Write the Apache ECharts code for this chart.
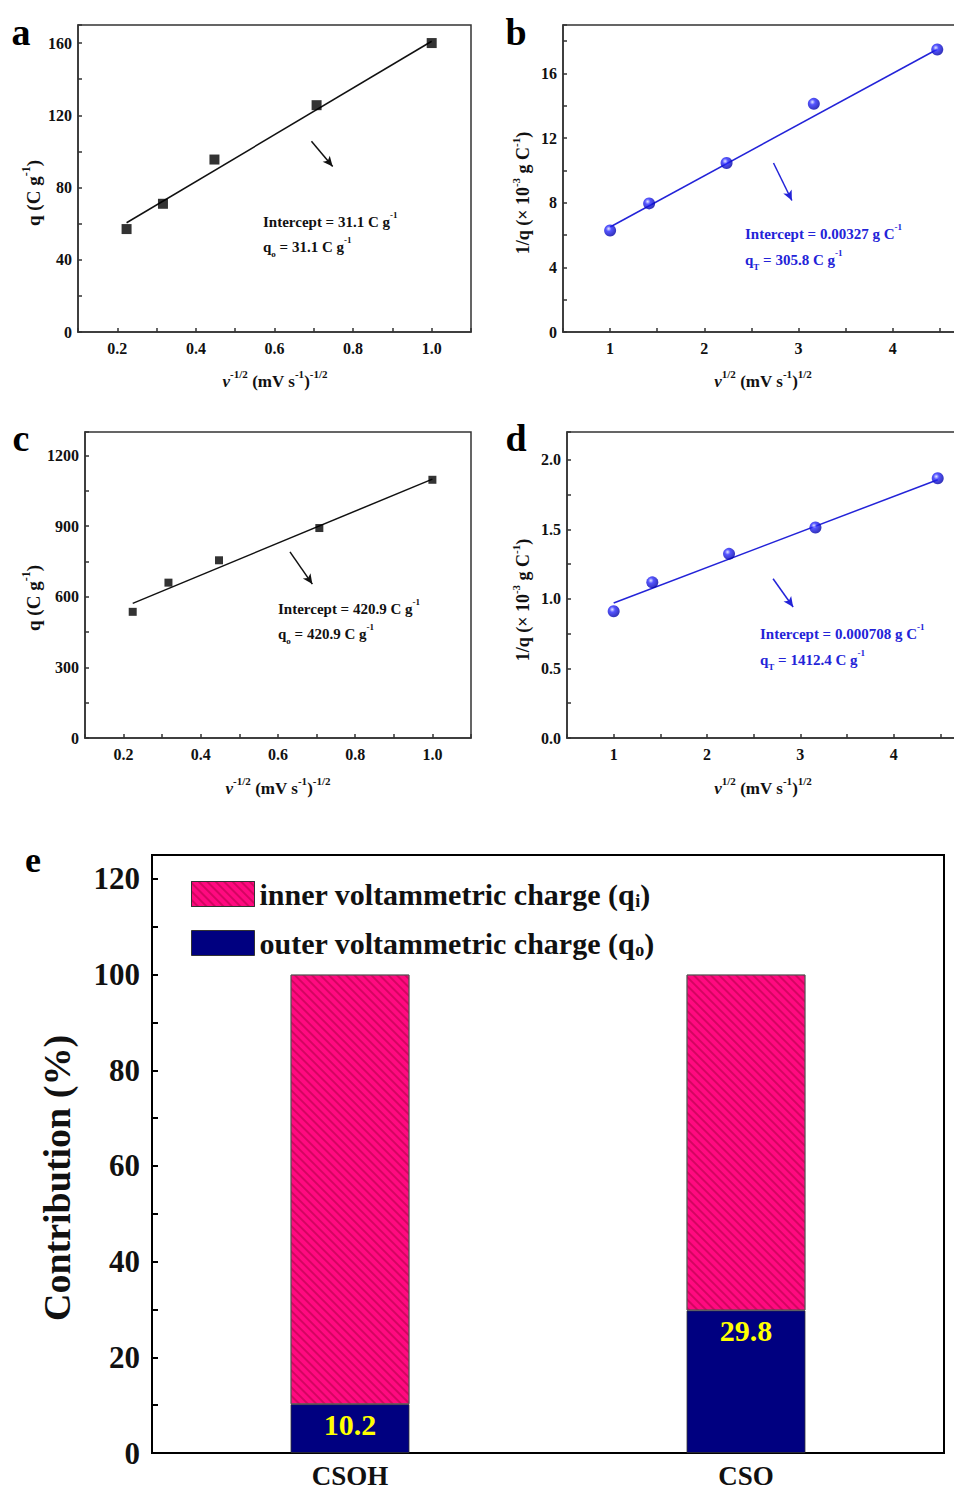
<!DOCTYPE html>
<html><head><meta charset="utf-8">
<script src="https://cdn.jsdelivr.net/npm/echarts@6/dist/echarts.min.js"></script>
<style>html,body{margin:0;padding:0;background:#fff}#c{width:954px;height:1493px}</style>
</head><body><div id="c"></div>
<script>
// ---------------- data ----------------
const xInvSqrt = [0.2236, 0.3162, 0.4472, 0.7071, 1.0];     // v^-1/2
const xSqrt = [1.0, 1.414, 2.236, 3.162, 4.472];            // v^1/2
const qA = [57.0, 71.0, 95.5, 125.6, 160.0];
const fitA = [60.5, 161.0];
const invqB = [6.28, 7.96, 10.46, 14.12, 17.48];
const fitB = [6.5, 17.5];
const qC = [536, 660, 755, 892, 1097];
const fitC = [572, 1100];
const invqD = [0.911, 1.119, 1.324, 1.513, 1.867];
const fitD = [0.971, 1.857];
const categoriesE = ['CSOH', 'CSO'];
const outerE = [10.2, 29.8];
const innerE = [89.8, 70.2];
// annotation arrows (data coordinates)
const arrowA = [[0.694, 105.6], [0.748, 91.7]];
const arrowB = [[2.734, 10.46], [2.929, 8.14]];
const arrowC = [[0.631, 791], [0.689, 654]];
const arrowD = [[2.708, 1.145], [2.923, 0.942]];

// ---------------- style ----------------
const F = 'Liberation Serif';
const BLUE = '#2323d8';
const sphere = {type:'radial', x:0.38, y:0.35, r:0.65, colorStops:[
  {offset:0, color:'#dfe3ff'}, {offset:0.35, color:'#2a2aff'}, {offset:1, color:'#0000a8'}]};

function valueAxis(gi, min, max, interval, fmt, margin, size, color, width, tickLen) {
  return {
    type:'value', gridIndex:gi, min, max, interval,
    axisLine:{show:true, onZero:false, lineStyle:{color, width}},
    axisTick:{show:true, inside:true, length:tickLen, lineStyle:{color, width}},
    splitLine:{show:false},
    axisLabel:{margin, fontFamily:F, fontWeight:'bold', fontSize:size, color:'#111', formatter:fmt}
  };
}
const fmtX1 = v => (Math.round(v*10) % 2 === 0) ? v.toFixed(1) : '';
const fmtXs = v => (Math.abs(v - Math.round(v)) < 1e-6 && v < 4.9) ? String(Math.round(v)) : '';
const fmtMul = m => v => (Math.abs(v/m - Math.round(v/m)) < 1e-6) ? String(v) : '';
const fmtD = v => (Math.abs(v*2 - Math.round(v*2)) < 1e-6 && v < 2.15) ? v.toFixed(1) : '';
const fmtE = v => (v % 20 === 0 && v <= 120) ? String(v) : '';

const grids = [
  {left:78, top:25, width:393, height:307},
  {left:563, top:25, width:424, height:307},
  {left:85, top:432, width:386, height:306},
  {left:567, top:432, width:420, height:306},
  {left:152, top:855, width:792, height:598}
].map((g,i) => Object.assign({show:true, containLabel:false, outerBoundsMode:'none',
  borderColor: i===4?'#000':'#333', borderWidth: i===4?2:1.5, backgroundColor:'transparent'}, g));

const xAxes = [
  valueAxis(0, 0.1, 1.1, 0.1, fmtX1, 8, 16, '#333', 1.5, 4),
  valueAxis(1, 0.5, 5.0, 0.5, fmtXs, 8, 16, '#333', 1.5, 4),
  valueAxis(2, 0.1, 1.1, 0.1, fmtX1, 8, 16, '#333', 1.5, 4),
  valueAxis(3, 0.5, 5.0, 0.5, fmtXs, 8, 16, '#333', 1.5, 4),
  {type:'category', gridIndex:4, data:categoriesE,
   axisLine:{show:true, lineStyle:{color:'#000', width:2}}, axisTick:{show:false},
   axisLabel:{margin:9, fontFamily:F, fontWeight:'bold', fontSize:27, lineHeight:28, color:'#111'}}
];
const yAxes = [
  valueAxis(0, 0, 170, 20, fmtMul(40), 6, 16, '#333', 1.5, 4),
  valueAxis(1, 0, 19, 2, fmtMul(4), 6, 16, '#333', 1.5, 4),
  valueAxis(2, 0, 1300, 150, v => (v % 300 === 0) ? String(v) : '', 6, 16, '#333', 1.5, 4),
  valueAxis(3, 0, 2.2, 0.25, fmtD, 6, 16, '#333', 1.5, 4),
  valueAxis(4, 0, 125, 10, fmtE, 12, 31, '#000', 2, 6)
];

function arrowLine(arr, color) {
  return {silent:true, animation:false, symbol:['none','arrow'], symbolSize:[7,10],
    label:{show:false}, lineStyle:{color, width:1.5, type:'solid'},
    data:[[{coord:arr[0]}, {coord:arr[1]}]]};
}
function pts(xs, ys) { return xs.map((x,i) => [x, ys[i]]); }

const series = [
  {type:'scatter', xAxisIndex:0, yAxisIndex:0, data:pts(xInvSqrt, qA), symbol:'rect', symbolSize:10, itemStyle:{color:'#000'}, z:5},
  {type:'line', xAxisIndex:0, yAxisIndex:0, data:[[xInvSqrt[0], fitA[0]], [xInvSqrt[4], fitA[1]]], symbol:'none', lineStyle:{color:'#111', width:1.5}, markLine:arrowLine(arrowA, '#111')},
  {type:'scatter', xAxisIndex:1, yAxisIndex:1, data:pts(xSqrt, invqB), symbol:'circle', symbolSize:12, itemStyle:{color:sphere}, z:5},
  {type:'line', xAxisIndex:1, yAxisIndex:1, data:[[xSqrt[0], fitB[0]], [xSqrt[4], fitB[1]]], symbol:'none', lineStyle:{color:BLUE, width:1.5}, markLine:arrowLine(arrowB, BLUE)},
  {type:'scatter', xAxisIndex:2, yAxisIndex:2, data:pts(xInvSqrt, qC), symbol:'rect', symbolSize:8, itemStyle:{color:'#000'}, z:5},
  {type:'line', xAxisIndex:2, yAxisIndex:2, data:[[xInvSqrt[0], fitC[0]], [xInvSqrt[4], fitC[1]]], symbol:'none', lineStyle:{color:'#111', width:1.5}, markLine:arrowLine(arrowC, '#111')},
  {type:'scatter', xAxisIndex:3, yAxisIndex:3, data:pts(xSqrt, invqD), symbol:'circle', symbolSize:12, itemStyle:{color:sphere}, z:5},
  {type:'line', xAxisIndex:3, yAxisIndex:3, data:[[xSqrt[0], fitD[0]], [xSqrt[4], fitD[1]]], symbol:'none', lineStyle:{color:BLUE, width:1.5}, markLine:arrowLine(arrowD, BLUE)},
  {type:'bar', name:'outer', xAxisIndex:4, yAxisIndex:4, stack:'e', data:outerE, barWidth:'30%',
   itemStyle:{color:'#000080', borderColor:'#333', borderWidth:0.8},
   label:{show:true, position:'insideTop', distance:5, formatter:p => p.value.toFixed(1), color:'#ffff00', fontFamily:F, fontWeight:'bold', fontSize:30}},
  {type:'bar', name:'inner', xAxisIndex:4, yAxisIndex:4, stack:'e', data:innerE, barWidth:'30%',
   itemStyle:{color:'#ff0a80', borderColor:'#555', borderWidth:0.8,
     decal:{symbol:'rect', dashArrayX:[1,0], dashArrayY:[1.5,3.5], rotation:Math.PI/4, color:'rgba(160,0,60,0.45)'}}}
];

// text helpers
function rich(size, color) {
  const base = {fontFamily:F, fontWeight:'bold', fontSize:size, fill:color, lineHeight:size+8};
  const small = {fontFamily:F, fontWeight:'bold', fontSize:Math.round(size*0.62), fill:color};
  return {
    n: base,
    i: Object.assign({}, base, {fontStyle:'italic'}),
    sup: Object.assign({}, small, {verticalAlign:'top'}),
    sub: Object.assign({}, small, {verticalAlign:'bottom'})
  };
}
function txt(x, y, text, size, color, opts) {
  opts = opts || {};
  return {type:'text', x, y, rotation: opts.rot || 0, z:100, silent:true,
    style:{text, rich:rich(size, color), align: opts.align || 'left', verticalAlign:'middle',
      fontFamily:F, fontWeight:'bold', fontSize:size, fill:color}};
}
const R90 = Math.PI/2;
const ytA = '{n|q (C g}{sup|-1}{n|)}';
const ytB = '{n|1/q (× 10}{sup|-3}{n| g C}{sup|-1}{n|)}';
const xtInv = '{i|v}{sup|-1/2}{n| (mV s}{sup|-1}{n|)}{sup|-1/2}';
const xtSq = '{i|v}{sup|1/2}{n| (mV s}{sup|-1}{n|)}{sup|1/2}';

const graphic = [
  txt(21, 32, '{n|a}', 38, '#000', {align:'center'}),
  txt(516, 32, '{n|b}', 38, '#000', {align:'center'}),
  txt(21, 438, '{n|c}', 38, '#000', {align:'center'}),
  txt(516, 438, '{n|d}', 38, '#000', {align:'center'}),
  txt(33, 860, '{n|e}', 36, '#000', {align:'center'}),
  // axis titles
  txt(33, 193, ytA, 19, '#111', {align:'center', rot:R90}),
  txt(275, 381, xtInv, 17, '#111', {align:'center'}),
  txt(523, 193, ytB, 18, '#111', {align:'center', rot:R90}),
  txt(763, 381, xtSq, 17, '#111', {align:'center'}),
  txt(33, 598, ytA, 19, '#111', {align:'center', rot:R90}),
  txt(278, 788, xtInv, 17, '#111', {align:'center'}),
  txt(523, 600, ytB, 18, '#111', {align:'center', rot:R90}),
  txt(763, 788, xtSq, 17, '#111', {align:'center'}),
  txt(57, 1178, '{n|Contribution (%)}', 38, '#111', {align:'center', rot:R90}),
  // annotations
  txt(263, 222, '{n|Intercept = 31.1 C g}{sup|-1}', 15, '#111'),
  txt(263, 247, '{n|q}{sub|o}{n| = 31.1 C g}{sup|-1}', 15, '#111'),
  txt(745, 234, '{n|Intercept = 0.00327 g C}{sup|-1}', 15, BLUE),
  txt(745, 260, '{n|q}{sub|T}{n| = 305.8 C g}{sup|-1}', 15, BLUE),
  txt(278, 609, '{n|Intercept = 420.9 C g}{sup|-1}', 15, '#111'),
  txt(278, 634, '{n|q}{sub|o}{n| = 420.9 C g}{sup|-1}', 15, '#111'),
  txt(760, 634, '{n|Intercept = 0.000708 g C}{sup|-1}', 15, BLUE),
  txt(760, 660, '{n|q}{sub|T}{n| = 1412.4 C g}{sup|-1}', 15, BLUE)
];

const chart = echarts.init(document.getElementById('c'), null, {renderer:'svg'});
chart.setOption({
  backgroundColor:'#fff',
  animation:false,
  grid: grids,
  xAxis: xAxes,
  yAxis: yAxes,
  series,
  legend: {
    data:['inner','outer'], orient:'vertical', left:186, top:874, itemWidth:63, itemHeight:25, itemGap:18,
    icon:'rect', selectedMode:false,
    itemStyle:{borderColor:'#333', borderWidth:1},
    formatter: name => name === 'inner'
      ? '{t|inner voltammetric charge (q}{s|i}{t|)}'
      : '{t|outer voltammetric charge (q}{s|o}{t|)}',
    textStyle:{rich:{
      t:{fontFamily:F, fontWeight:'bold', fontSize:30, color:'#111', lineHeight:32},
      s:{fontFamily:F, fontWeight:'bold', fontSize:18, color:'#111', verticalAlign:'bottom'}
    }}
  },
  graphic
});
</script></body></html>
